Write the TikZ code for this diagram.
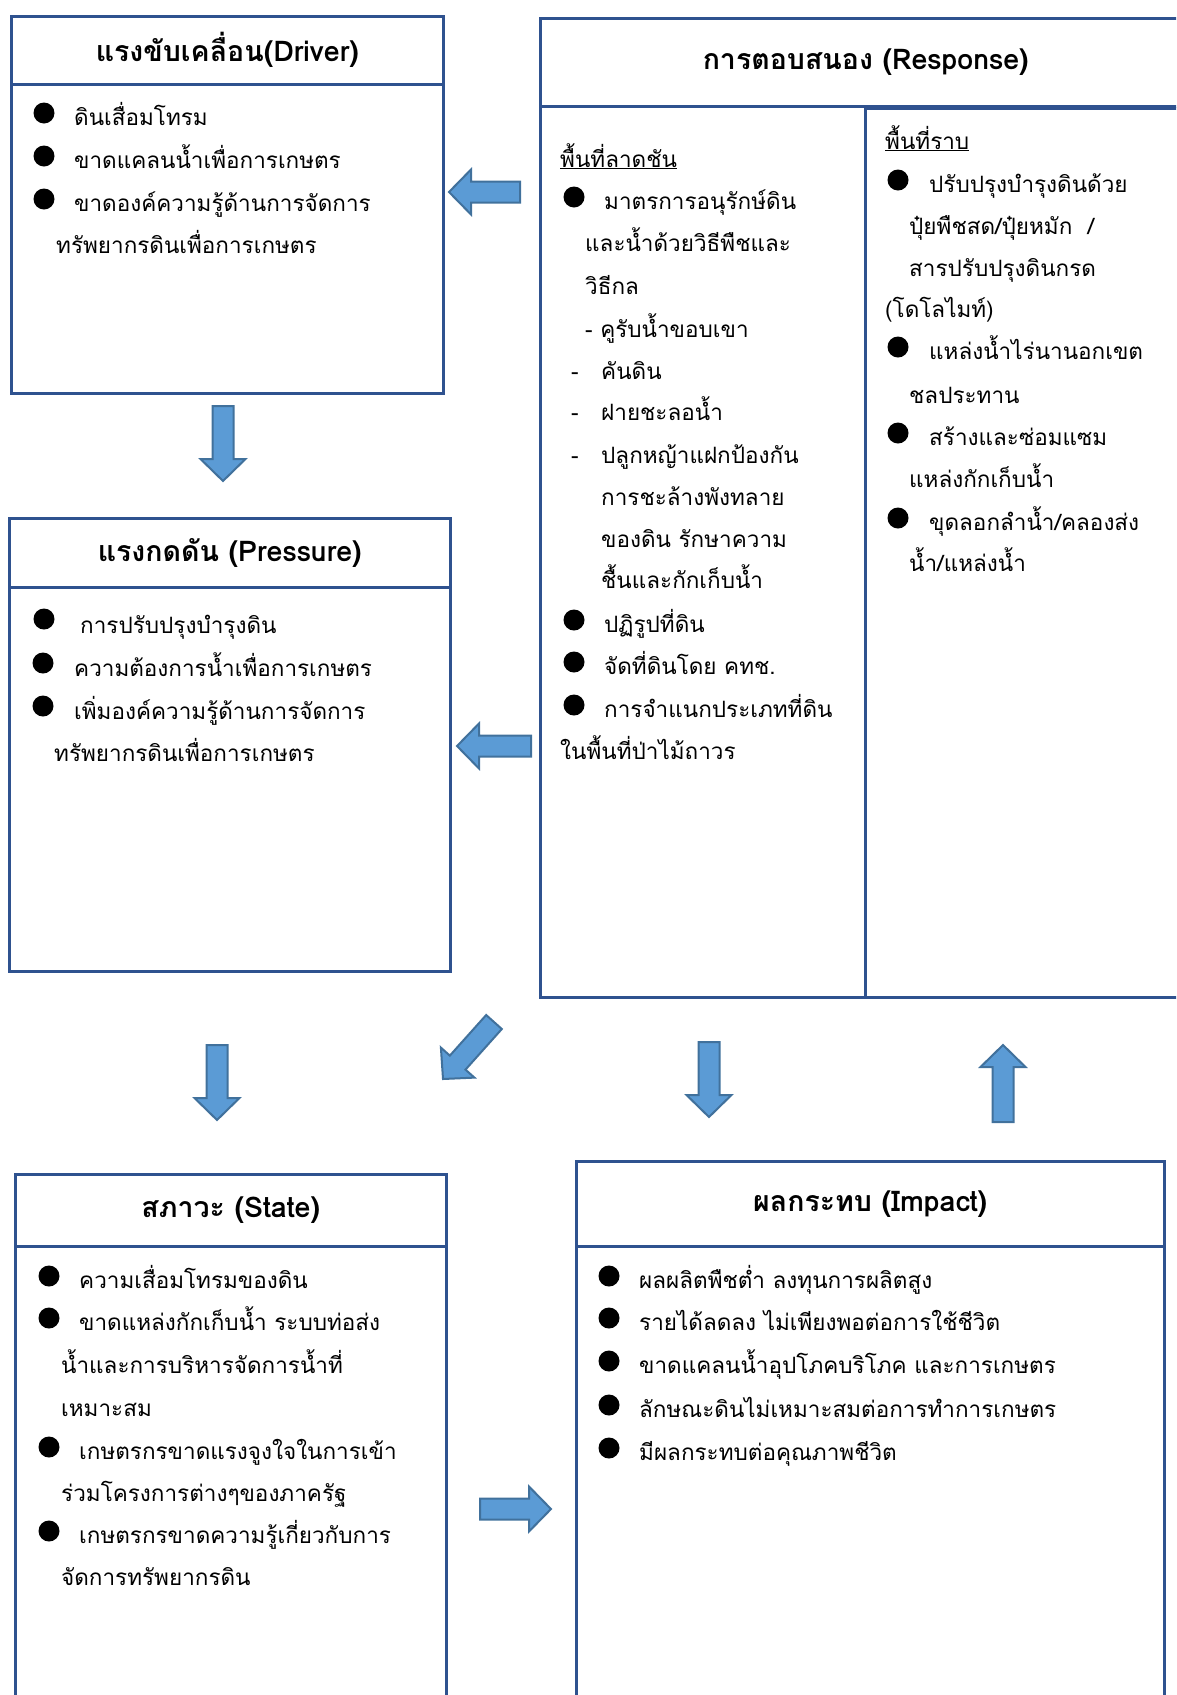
\documentclass[tikz,border=0pt]{standalone}
\usepackage{fontspec}
\newfontfamily\thai[Script=Thai]{Loma}
\usetikzlibrary{calc}
\definecolor{boxblue}{HTML}{2F528F}
\definecolor{arrfill}{HTML}{5B9BD5}
\definecolor{arrline}{HTML}{41719C}
\newcommand\bodyf{\thai\fontsize{22.5}{27}\selectfont}
\newcommand\titlef{\thai\bfseries\fontsize{28.5}{32}\selectfont}
\tikzset{
  panel/.style={draw=boxblue, line width=2.5pt, anchor=north west, inner sep=0pt, font=\titlef},
  txt/.style={anchor=base west, inner sep=0pt, font=\bodyf},
  bul/.style={fill=black},
  barrow/.style={fill=arrfill, draw=arrline, line width=2pt, line join=miter}
}
\newcommand\blockarrow[3]{%
  \coordinate (#1h) at ($(#3)!22pt!(#2)$);
  \draw[barrow] ($(#2)!10.5pt!90:(#3)$) -- ($(#1h)!10.5pt!90:(#3)$) -- ($(#1h)!22.5pt!90:(#3)$) -- (#3)
     -- ($(#1h)!22.5pt!-90:(#3)$) -- ($(#1h)!10.5pt!-90:(#3)$) -- ($(#2)!10.5pt!-90:(#3)$) -- cycle;
}
\newcommand\bu[2]{\fill[bul] (#1,#2) circle (10.5pt);}
\begin{document}
\begin{tikzpicture}[x=1pt,y=-1pt]
\useasboundingbox (0,0) rectangle (1176,1695);
\clip (0,0) rectangle (1176,1695);

% ---------- boxes ----------
\node[panel, minimum width=432pt, minimum height=68pt] (dh) at (10,15) {แรงขับเคลื่อน(Driver)};
\node[panel, minimum width=432pt, minimum height=309pt] (db) at (10,83) {};

\node[panel, minimum width=651pt, minimum height=88pt] (rh) at (539,17) {การตอบสนอง (Response)};
\node[panel, minimum width=325pt, minimum height=891pt] (rl) at (539,105) {};
\node[panel, minimum width=326pt, minimum height=889pt] (rr) at (864,107) {};

\node[panel, minimum width=441pt, minimum height=69pt] (ph) at (8,517) {แรงกดดัน (Pressure)};
\node[panel, minimum width=441pt, minimum height=384pt] (pb) at (8,586) {};

\node[panel, minimum width=431pt, minimum height=72pt] (sh) at (14,1173) {สภาวะ (State)};
\node[panel, minimum width=431pt, minimum height=480pt] (sb) at (14,1245) {};

\node[panel, minimum width=588pt, minimum height=85pt] (ih) at (575,1160) {ผลกระทบ (Impact)};
\node[panel, minimum width=588pt, minimum height=480pt] (ib) at (575,1245) {};

% ---------- Driver text ----------
\bu{44}{113}\node[txt] (d1) at (74,125) {ดินเสื่อมโทรม};
\bu{44}{156}\node[txt] (d2) at (74,168) {ขาดแคลนน้ำเพื่อการเกษตร};
\bu{44}{199}\node[txt] (d3) at (74,211) {ขาดองค์ความรู้ด้านการจัดการ};
\node[txt] (d4) at (56,253) {ทรัพยากรดินเพื่อการเกษตร};

% ---------- Response left ----------
\node[txt] (r0) at (560,167) {\underline{พื้นที่ลาดชัน}};
\bu{574}{197}\node[txt] (r1) at (604,209) {มาตรการอนุรักษ์ดิน};
\node[txt] (r2) at (585,251) {และน้ำด้วยวิธีพืชและ};
\node[txt] (r3) at (585,294) {วิธีกล};
\node[txt] (r4) at (585,337) {- คูรับน้ำขอบเขา};
\node[txt] (r5d) at (571,379) {-};\node[txt] (r5) at (601,379) {คันดิน};
\node[txt] (r6d) at (571,420) {-};\node[txt] (r6) at (601,420) {ฝายชะลอน้ำ};
\node[txt] (r7d) at (571,463) {-};\node[txt] (r7) at (601,463) {ปลูกหญ้าแฝกป้องกัน};
\node[txt] (r8) at (601,505) {การชะล้างพังทลาย};
\node[txt] (r9) at (601,547) {ของดิน รักษาความ};
\node[txt] (r10) at (601,588) {ชื้นและกักเก็บน้ำ};
\bu{574}{620}\node[txt] (r11) at (604,632) {ปฏิรูปที่ดิน};
\bu{574}{662}\node[txt] (r12) at (604,674) {จัดที่ดินโดย คทช.};
\bu{574}{705}\node[txt] (r13) at (604,717) {การจำแนกประเภทที่ดิน};
\node[txt] (r14) at (560,759) {ในพื้นที่ป่าไม้ถาวร};

% ---------- Response right ----------
\node[txt] (q0) at (885,149) {\underline{พื้นที่ราบ}};
\bu{898}{180}\node[txt] (q1) at (929,192) {ปรับปรุงบำรุงดินด้วย};
\node[txt] (q2) at (909,234) {ปุ๋ยพืชสด/ปุ๋ยหมัก~~/};
\node[txt] (q3) at (909,276) {สารปรับปรุงดินกรด};
\node[txt] (q4) at (885,317) {(โดโลไมท์)};
\bu{898}{347}\node[txt] (q5) at (929,359) {แหล่งน้ำไร่นานอกเขต};
\node[txt] (q6) at (909,403) {ชลประทาน};
\bu{898}{433}\node[txt] (q7) at (929,445) {สร้างและซ่อมแซม};
\node[txt] (q8) at (909,487) {แหล่งกักเก็บน้ำ};
\bu{898}{518}\node[txt] (q9) at (929,530) {ขุดลอกลำน้ำ/คลองส่ง};
\node[txt] (q10) at (909,571) {น้ำ/แหล่งน้ำ};

% ---------- Pressure ----------
\bu{44}{619}\node[txt] (p1) at (80,633) {การปรับปรุงบำรุงดิน};
\bu{43}{663}\node[txt] (p2) at (74,676) {ความต้องการน้ำเพื่อการเกษตร};
\bu{43}{706}\node[txt] (p3) at (74,719) {เพิ่มองค์ความรู้ด้านการจัดการ};
\node[txt] (p4) at (54,761) {ทรัพยากรดินเพื่อการเกษตร};

% ---------- State ----------
\bu{49}{1276}\node[txt] (s1) at (79,1288) {ความเสื่อมโทรมของดิน};
\bu{49}{1318}\node[txt] (s2) at (79,1330) {ขาดแหล่งกักเก็บน้ำ ระบบท่อส่ง};
\node[txt] (s3) at (61,1373) {น้ำและการบริหารจัดการน้ำที่};
\node[txt] (s4) at (61,1416) {เหมาะสม};
\bu{49}{1447}\node[txt] (s5) at (79,1459) {เกษตรกรขาดแรงจูงใจในการเข้า};
\node[txt] (s6) at (61,1501) {ร่วมโครงการต่างๆของภาครัฐ};
\bu{49}{1531}\node[txt] (s7) at (79,1543) {เกษตรกรขาดความรู้เกี่ยวกับการ};
\node[txt] (s8) at (61,1585) {จัดการทรัพยากรดิน};

% ---------- Impact ----------
\bu{609}{1276}\node[txt] (i1) at (639,1288) {ผลผลิตพืชต่ำ ลงทุนการผลิตสูง};
\bu{609}{1318}\node[txt] (i2) at (639,1330) {รายได้ลดลง ไม่เพียงพอต่อการใช้ชีวิต};
\bu{609}{1361}\node[txt] (i3) at (639,1373) {ขาดแคลนน้ำอุปโภคบริโภค และการเกษตร};
\bu{609}{1405}\node[txt] (i4) at (639,1417) {ลักษณะดินไม่เหมาะสมต่อการทำการเกษตร};
\bu{609}{1448}\node[txt] (i5) at (639,1460) {มีผลกระทบต่อคุณภาพชีวิต};

% ---------- block arrows ----------
\coordinate (a1t) at (520,192); \coordinate (a1p) at (449,192);
\coordinate (a2t) at (223,406); \coordinate (a2p) at (223,481);
\coordinate (a3t) at (531,746); \coordinate (a3p) at (457,746);
\coordinate (a4t) at (217,1045); \coordinate (a4p) at (217,1120);
\coordinate (a5t) at (494,1022); \coordinate (a5p) at (443,1079);
\coordinate (a6t) at (709,1042); \coordinate (a6p) at (709,1117);
\coordinate (a7t) at (1003,1122); \coordinate (a7p) at (1003,1045);
\coordinate (a8t) at (480,1509); \coordinate (a8p) at (551,1509);
\blockarrow{a1}{a1t}{a1p}
\blockarrow{a2}{a2t}{a2p}
\blockarrow{a3}{a3t}{a3p}
\blockarrow{a4}{a4t}{a4p}
\blockarrow{a5}{a5t}{a5p}
\blockarrow{a6}{a6t}{a6p}
\blockarrow{a7}{a7t}{a7p}
\blockarrow{a8}{a8t}{a8p}
\end{tikzpicture}
\end{document}
